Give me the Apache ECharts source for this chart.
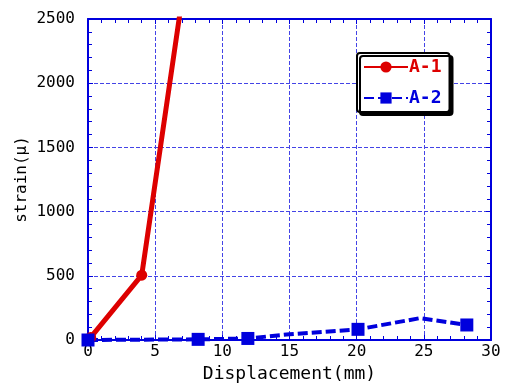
<!DOCTYPE html>
<html><head><meta charset="utf-8">
<script src="https://cdn.jsdelivr.net/npm/echarts@6/dist/echarts.min.js"></script>
<style>html,body{margin:0;padding:0;background:#fff}#c{width:506px;height:385px}</style>
</head><body><div id="c"></div>
<script>
const seriesNames = ['A-1', 'A-2'];
const a1X = [0.2, 4.0, 7.2];
const a1Y = [20, 505, 2800];
const a2X = [0, 8.2, 11.9, 15.0, 20.1, 24.7, 28.2];
const a2Y = [0, 5, 12, 45, 83, 170, 117];
const a2Marked = [true, true, true, false, true, false, true];
const xTicks = [0, 5, 10, 15, 20, 25, 30];
const yTicks = [0, 500, 1000, 1500, 2000, 2500];

const FONT = '"DejaVu Sans Mono", "Liberation Mono", monospace';
const BLUE = '#0000dd';
const GRIDC = '#4444e6';
const RED = '#dd0000';

const chart = echarts.init(document.getElementById('c'), null, {renderer: 'canvas'});

function axisCommon() {
  return {
    axisLine: {show: true, onZero: false, lineStyle: {color: BLUE, width: 2}},
    axisTick: {show: true, inside: true, length: 5, lineStyle: {color: BLUE, width: 1}},
    minorTick: {show: true, splitNumber: 5, length: 4, lineStyle: {color: BLUE, width: 1}},
  };
}

chart.setOption({
  animation: false,
  grid: {left: 88, right: 15, top: 19, bottom: 45, outerBoundsMode: 'none', containLabel: false},
  xAxis: [
    Object.assign(axisCommon(), {
      type: 'value', min: xTicks[0], max: xTicks[xTicks.length - 1], interval: 5,
      name: 'Displacement(mm)', nameLocation: 'middle', nameGap: 25, nameMoveOverlap: false,
      nameTextStyle: {fontFamily: FONT, fontSize: 18, color: '#000'},
      axisLabel: {fontFamily: FONT, fontSize: 16, color: '#000', margin: 4},
      splitLine: {show: true, lineStyle: {color: GRIDC, type: [4, 2], width: 1}},
    }),
    Object.assign(axisCommon(), {
      type: 'value', position: 'top', min: xTicks[0], max: xTicks[xTicks.length - 1], interval: 5,
      axisLabel: {show: false}, splitLine: {show: false},
    })
  ],
  yAxis: [
    Object.assign(axisCommon(), {
      type: 'value', min: yTicks[0], max: yTicks[yTicks.length - 1], interval: 500,
      name: 'strain(μ)', nameLocation: 'middle', nameGap: 58, nameRotate: 90, nameMoveOverlap: false,
      nameTextStyle: {fontFamily: FONT, fontSize: 16, color: '#000'},
      axisLabel: {fontFamily: FONT, fontSize: 16, color: '#000', margin: 13, formatter: v => String(v)},
      splitLine: {show: true, lineStyle: {color: GRIDC, type: [4, 2], width: 1}},
    }),
    Object.assign(axisCommon(), {
      type: 'value', position: 'right', min: yTicks[0], max: yTicks[yTicks.length - 1], interval: 500,
      axisLabel: {show: false}, splitLine: {show: false},
    })
  ],
  legend: {
    orient: 'vertical', left: 357, top: 53,
    padding: [5, 8, 5, 6], itemGap: 13,
    itemWidth: 44, itemHeight: 14,
    backgroundColor: '#fff', borderColor: '#000', borderWidth: 2, borderRadius: 3,
    shadowColor: '#000', shadowBlur: 0, shadowOffsetX: 3, shadowOffsetY: 3,
    textStyle: {fontFamily: FONT, fontSize: 18, fontWeight: 'bold', padding: [0, 0, 0, -4]},
    data: [
      {name: seriesNames[0], textStyle: {color: RED}},
      {name: seriesNames[1], textStyle: {color: BLUE}}
    ]
  },
  series: [
    {
      name: seriesNames[0], type: 'line', clip: true,
      data: a1X.map((x, i) => [x, a1Y[i]]),
      symbol: 'circle', symbolSize: 11,
      lineStyle: {color: RED, width: 5},
      itemStyle: {color: RED}
    },
    {
      name: seriesNames[1], type: 'line', clip: true,
      data: a2X.map((x, i) => ({value: [x, a2Y[i]], symbol: a2Marked[i] ? 'rect' : 'none'})),
      symbol: 'rect', symbolSize: 13,
      lineStyle: {color: BLUE, width: 4, type: [10, 4]},
      itemStyle: {color: BLUE}
    }
  ]
});
</script></body></html>
